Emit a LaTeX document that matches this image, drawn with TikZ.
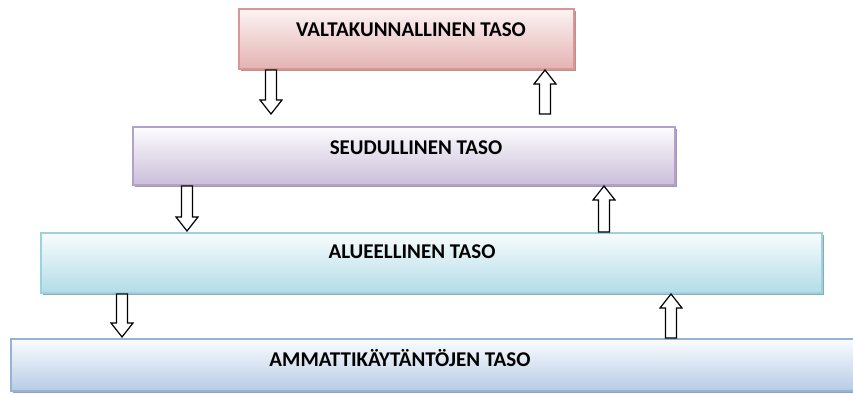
\documentclass[tikz,border=0pt]{standalone}
\usepackage{fontspec}
\setmainfont{Carlito}
\usetikzlibrary{calc}
\definecolor{redB}{HTML}{D99694}\definecolor{redF}{HTML}{E4B3B2}\definecolor{redT}{HTML}{FCF3F3}\definecolor{redS}{HTML}{BC8E8D}
\definecolor{purB}{HTML}{B3A2C7}\definecolor{purF}{HTML}{CABED9}\definecolor{purT}{HTML}{FDFCFE}\definecolor{purS}{HTML}{A597B4}
\definecolor{cyaB}{HTML}{9BD1E0}\definecolor{cyaF}{HTML}{B3DCE7}\definecolor{cyaT}{HTML}{F8FCFD}\definecolor{cyaS}{HTML}{8DAAB2}
\definecolor{bluB}{HTML}{95B3D7}\definecolor{bluF}{HTML}{B6CBE4}\definecolor{bluT}{HTML}{FBFCFE}\definecolor{bluS}{HTML}{8FA3BC}
\tikzset{
  levelbox/.style n args={3}{draw=#1, line width=2pt, top color=#3, bottom color=#2, rectangle, inner sep=0pt, anchor=north west},
  leveltext/.style={font=\bfseries\fontsize{21}{23}\selectfont, text=black},
  arrowline/.style={draw=black, line width=1.2pt, fill=white, line join=miter},
}
\newcommand{\blockarr}[2]{%
  \draw[arrowline] let \p1=(#1), \p2=(#2), \n1={(\y2-\y1)/abs(\y2-\y1)} in
    (\x1-5.5pt,\y1) -- (\x1-5.5pt,\y2-\n1*14pt) -- (\x1-11pt,\y2-\n1*14pt) -- (\x1,\y2)
    -- (\x1+11pt,\y2-\n1*14pt) -- (\x1+5.5pt,\y2-\n1*14pt) -- (\x1+5.5pt,\y1) -- cycle;}
\begin{document}
\begin{tikzpicture}[x=1pt,y=-1pt]
\useasboundingbox (0,0) rectangle (853,394);
\clip (0,0) rectangle (853,394);
% shadows
\fill[redS] (241,11) rectangle (576,71);
\fill[purS] (135,129) rectangle (677,187);
\fill[cyaS] (43,235) rectangle (824,295);
\fill[bluS] (13,341) rectangle (860,393);
% boxes
\node[levelbox={redB}{redF}{redT}, minimum width=335pt, minimum height=60pt] (b1) at (238,8) {};
\node[levelbox={purB}{purF}{purT}, minimum width=542pt, minimum height=58pt] (b2) at (132,126) {};
\node[levelbox={cyaB}{cyaF}{cyaT}, minimum width=781pt, minimum height=60pt] (b3) at (40,232) {};
\node[levelbox={bluB}{bluF}{bluT}, minimum width=848pt, minimum height=52pt] (b4) at (10,338) {};
% texts
\node[leveltext] (t1) at (411,30) {VALTAKUNNALLINEN TASO};
\node[leveltext] (t2) at (416,148) {SEUDULLINEN TASO};
\node[leveltext] (t3) at (412,252) {ALUEELLINEN TASO};
\node[leveltext] (t4) at (400,358) {AMMATTIKÄYTÄNTÖJEN TASO};
% arrow end points
\coordinate (d1s) at (b1.south -| 271,0); \coordinate (d1e) at (271,114);
\coordinate (u1s) at (545,114); \coordinate (u1e) at (b1.south -| 545,0);
\coordinate (d2s) at (b2.south -| 187,0); \coordinate (d2e) at (187,231);
\coordinate (u2s) at (604,232); \coordinate (u2e) at (b2.south -| 604,0);
\coordinate (d3s) at (b3.south -| 122,0); \coordinate (d3e) at (122,337);
\coordinate (u3s) at (671,338); \coordinate (u3e) at (b3.south -| 671,0);
\blockarr{d1s}{d1e}\blockarr{u1s}{u1e}
\blockarr{d2s}{d2e}\blockarr{u2s}{u2e}
\blockarr{d3s}{d3e}\blockarr{u3s}{u3e}
\end{tikzpicture}
\end{document}
